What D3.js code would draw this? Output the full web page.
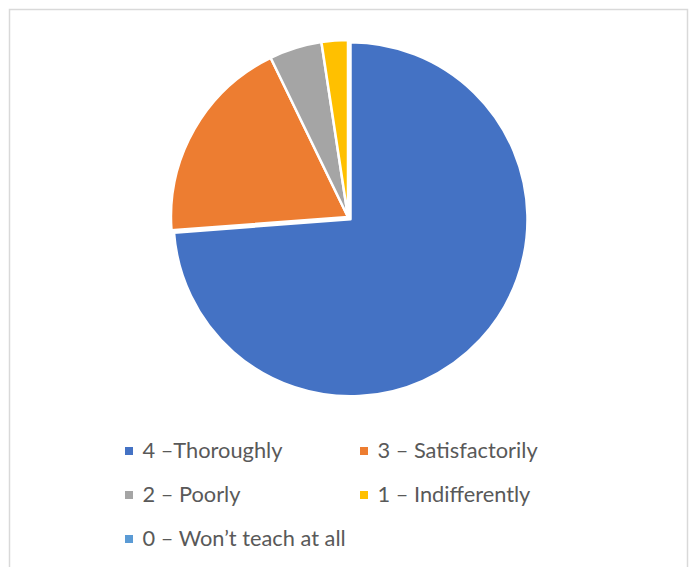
<!DOCTYPE html>
<html>
<head>
<meta charset="utf-8">
<script src="https://cdn.jsdelivr.net/npm/d3@7/dist/d3.min.js"></script>
<style>
  html, body { margin: 0; padding: 0; background: #fff; }
  svg { display: block; }
</style>
</head>
<body>
<svg id="chart" width="694" height="567"></svg>
<script>
const categories = ["4 –Thoroughly", "3 – Satisfactorily", "2 – Poorly", "1 – Indifferently", "0 – Won’t teach at all"];
const values = [73.8, 19.0, 4.8, 2.4, 0];
const colors = ["#4472C4", "#ED7D31", "#A5A5A5", "#FFC000", "#5B9BD5"];

const svg = d3.select("#chart");
const W = 694, H = 567;

// chart border
svg.append("rect")
  .attr("x", 9.5).attr("y", 9.5)
  .attr("width", 678).attr("height", 600)
  .attr("fill", "#fff")
  .attr("stroke", "#d9d9d9").attr("stroke-width", 1.5);

const cx = 348, cy = 217, R = 177;
const data = categories.map((c, i) => ({ cat: c, value: values[i], color: colors[i], i }));

const pie = d3.pie().sort(null).value(d => d.value);
const arc = d3.arc().innerRadius(0).outerRadius(R);
const arcs = pie(data);

const g = svg.append("g").attr("transform", `translate(${cx},${cy})`);
const explode = [3.4, 0, 0, 0, 0];
g.selectAll("path")
  .data(arcs.filter(a => a.data.value > 0))
  .join("path")
  .attr("d", arc)
  .attr("fill", d => d.data.color)
  .attr("stroke", "#fff")
  .attr("stroke-width", 2.5)
  .attr("stroke-linejoin", "round")
  .attr("transform", d => {
    const m = (d.startAngle + d.endAngle) / 2;
    const e = explode[d.data.i];
    return `translate(${Math.sin(m) * e},${-Math.cos(m) * e})`;
  });

// legend
const colX = [125, 360];
const rowY = [451, 495, 539];
const leg = svg.append("g");
data.forEach((d, i) => {
  const x = colX[i % 2], y = rowY[Math.floor(i / 2)];
  leg.append("rect")
    .attr("x", x).attr("y", y - 4)
    .attr("width", 8).attr("height", 8)
    .attr("fill", d.color);
  leg.append("text")
    .attr("x", x + 17.5).attr("y", y + 7)
    .attr("font-family", "Lato, 'Open Sans', sans-serif")
    .attr("font-size", 21.8)
    .attr("fill", "#595959")
    .text(d.cat);
});
</script>
</body>
</html>
